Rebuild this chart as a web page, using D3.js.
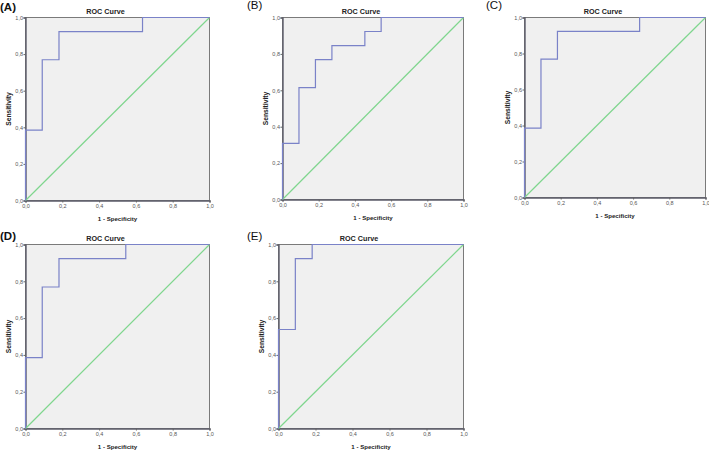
<!DOCTYPE html>
<html>
<head>
<meta charset="utf-8">
<script src="https://cdn.jsdelivr.net/npm/d3@7"></script>
<style>
  html, body { margin: 0; padding: 0; background: #ffffff; }
  svg { display: block; font-family: "Liberation Sans", Arial, sans-serif; }
</style>
</head>
<body>
<svg id="chart" width="709" height="452"></svg>
<script>
// ---- data ----
const panelLetters = ["(A)", "(B)", "(C)", "(D)", "(E)"];
const chartTitle = "ROC Curve";
const xAxisTitle = "1 - Specificity";
const yAxisTitle = "Sensitivity";
const tickValues = [0, 0.2, 0.4, 0.6, 0.8, 1.0];
const tickLabels = ["0,0", "0,2", "0,4", "0,6", "0,8", "1,0"];

const fprA = [0, 0, 0.091, 0.091, 0.182, 0.182, 0.636, 0.636, 1];
const tprA = [0, 0.385, 0.385, 0.769, 0.769, 0.923, 0.923, 1, 1];
const fprB = [0, 0, 0.091, 0.091, 0.182, 0.182, 0.273, 0.273, 0.455, 0.455, 0.545, 0.545, 1];
const tprB = [0, 0.308, 0.308, 0.615, 0.615, 0.769, 0.769, 0.846, 0.846, 0.923, 0.923, 1, 1];
const fprC = [0, 0, 0.091, 0.091, 0.182, 0.182, 0.636, 0.636, 1];
const tprC = [0, 0.385, 0.385, 0.769, 0.769, 0.923, 0.923, 1, 1];
const fprD = [0, 0, 0.091, 0.091, 0.182, 0.182, 0.545, 0.545, 1];
const tprD = [0, 0.385, 0.385, 0.769, 0.769, 0.923, 0.923, 1, 1];
const fprE = [0, 0, 0.091, 0.091, 0.182, 0.182, 1];
const tprE = [0, 0.538, 0.538, 0.923, 0.923, 1, 1];
const refLine = [0, 1];

const seriesFpr = [fprA, fprB, fprC, fprD, fprE];
const seriesTpr = [tprA, tprB, tprC, tprD, tprE];

// ---- layout (plot boxes in page pixels) ----
const layout = [
  { x0: 25.5, x1: 209.5, y0: 17.5, y1: 200.5, lx: 0,   ly: 11,  bold: true },
  { x0: 282.5, x1: 463.5, y0: 17.5, y1: 199.5, lx: 247, ly: 9,   bold: false },
  { x0: 524.5, x1: 705.5, y0: 17.5, y1: 197.5, lx: 486, ly: 9,   bold: false },
  { x0: 25.5, x1: 209.5, y0: 244.5, y1: 428.5, lx: 0,   ly: 240, bold: true },
  { x0: 278.5, x1: 463.5, y0: 244.5, y1: 428.5, lx: 247, ly: 240, bold: false }
];

const svg = d3.select("#chart");
const colCurve = "#7a82c8";
const colRef = "#7fd68e";
const colBg = "#f0f0f0";
const colFrame = "#7a7a7a";

layout.forEach((L, i) => {
  const x = d3.scaleLinear().domain([0, 1]).range([L.x0, L.x1]);
  const y = d3.scaleLinear().domain([0, 1]).range([L.y1, L.y0]);
  const g = svg.append("g");

  // panel letter
  g.append("text")
    .attr("x", L.lx).attr("y", L.ly)
    .attr("font-size", 11.5)
    .attr("font-weight", L.bold ? "bold" : "normal")
    .attr("fill", "#111")
    .text(panelLetters[i]);

  // plot background + frame
  g.append("rect")
    .attr("x", L.x0).attr("y", L.y0)
    .attr("width", L.x1 - L.x0).attr("height", L.y1 - L.y0)
    .attr("fill", colBg)
    .attr("stroke", colFrame).attr("stroke-width", 1);

  // axes
  const fmt = d => tickLabels[tickValues.indexOf(d)];
  const ax = g.append("g")
    .attr("transform", `translate(0,${L.y1})`)
    .call(d3.axisBottom(x).tickValues(tickValues).tickFormat(fmt).tickSize(2).tickPadding(1.5));
  const ay = g.append("g")
    .attr("transform", `translate(${L.x0},0)`)
    .call(d3.axisLeft(y).tickValues(tickValues).tickFormat(fmt).tickSize(2).tickPadding(0.5));
  [ax, ay].forEach(a => {
    a.select(".domain").attr("stroke", "#5c5c6a").attr("stroke-width", 1.4);
    a.selectAll(".tick line").attr("stroke", "#666");
    a.selectAll(".tick text")
      .attr("font-size", 5.5)
      .attr("fill", "#555")
      .attr("font-family", "Liberation Sans, Arial, sans-serif");
  });

  // reference diagonal
  const line = d3.line().x(d => x(d[0])).y(d => y(d[1]));
  g.append("path")
    .datum(refLine.map(v => [v, v]))
    .attr("d", line)
    .attr("fill", "none")
    .attr("stroke", colRef)
    .attr("stroke-width", 1.2);

  // ROC curve
  const pts = seriesFpr[i].map((f, k) => [f, seriesTpr[i][k]]);
  g.append("path")
    .datum(pts)
    .attr("d", line)
    .attr("fill", "none")
    .attr("stroke", colCurve)
    .attr("stroke-width", 1.2);

  // title
  g.append("text")
    .attr("x", (L.x0 + L.x1) / 2 - 12)
    .attr("y", L.y0 - 3.5)
    .attr("text-anchor", "middle")
    .attr("font-size", 7.2)
    .attr("font-weight", "bold")
    .attr("fill", "#222")
    .text(chartTitle);

  // x axis title
  g.append("text")
    .attr("x", (L.x0 + L.x1) / 2)
    .attr("y", L.y1 + 20)
    .attr("text-anchor", "middle")
    .attr("font-size", 6.1)
    .attr("font-weight", "bold")
    .attr("fill", "#222")
    .text(xAxisTitle);

  // y axis title
  const cy = (L.y0 + L.y1) / 2;
  const tx = L.x0 - 15;
  g.append("text")
    .attr("transform", `translate(${tx},${cy}) rotate(-90)`)
    .attr("text-anchor", "middle")
    .attr("font-size", 6.7)
    .attr("font-weight", "bold")
    .attr("fill", "#222")
    .text(yAxisTitle);
});
</script>
</body>
</html>
